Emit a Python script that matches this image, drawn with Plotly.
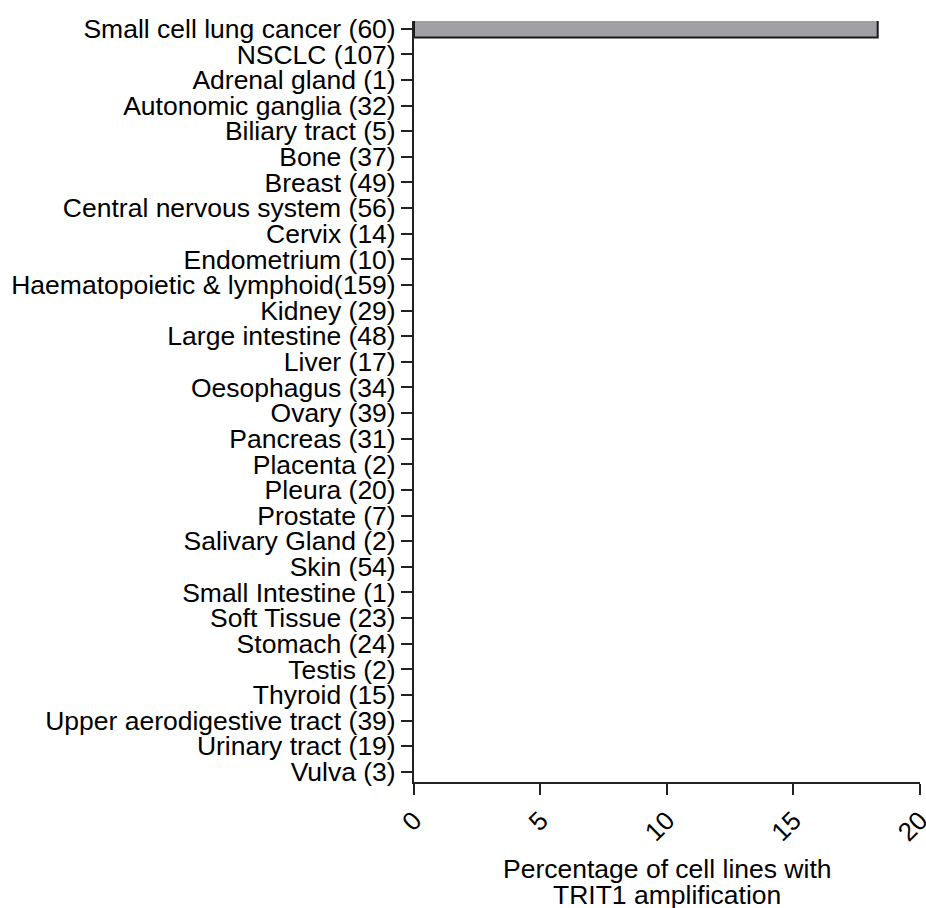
import plotly.graph_objects as go

categories = [
    "Small cell lung cancer (60)", "NSCLC (107)", "Adrenal gland (1)",
    "Autonomic ganglia (32)", "Biliary tract (5)", "Bone (37)", "Breast (49)",
    "Central nervous system (56)", "Cervix (14)", "Endometrium (10)",
    "Haematopoietic & lymphoid(159)", "Kidney (29)", "Large intestine (48)",
    "Liver (17)", "Oesophagus (34)", "Ovary (39)", "Pancreas (31)",
    "Placenta (2)", "Pleura (20)", "Prostate (7)", "Salivary Gland (2)",
    "Skin (54)", "Small Intestine (1)", "Soft Tissue (23)", "Stomach (24)",
    "Testis (2)", "Thyroid (15)", "Upper aerodigestive tract (39)",
    "Urinary tract (19)", "Vulva (3)",
]
values = [18.33] + [0] * 29
x_ticks = [0, 5, 10, 15, 20]
title_lines = ["Percentage of cell lines with", "TRIT1 amplification"]

FONT = "Liberation Sans, Arial, sans-serif"

fig = go.Figure(go.Bar(
    x=values, y=categories, orientation="h",
    width=0.68,
    marker=dict(color="#a1a1a5",
                line=dict(color="#1a1a1a",
                          width=[2 if v > 0 else 0 for v in values])),
))

fig.update_layout(
    width=926, height=908,
    margin=dict(l=414, r=6, t=21, b=126, autoexpand=False),
    paper_bgcolor="white", plot_bgcolor="white",
    showlegend=False,
    font=dict(family=FONT, size=26, color="black"),
)
fig.update_xaxes(
    range=[0, 20.002], tickmode="array", tickvals=x_ticks,
    ticktext=[str(t) for t in x_ticks], automargin=False,
    tickangle=-45, ticks="outside", ticklen=11, tickwidth=2, tickcolor="#222",
    ticklabeloverflow="allow",
    showline=True, linecolor="#222", linewidth=2, showgrid=False, zeroline=False,
    tickfont=dict(family=FONT, size=26, color="black"),
)
fig.update_yaxes(
    type="category", categoryorder="array", categoryarray=categories,
    tickmode="array", tickvals=categories, ticktext=categories,
    range=[29.4, -0.3], automargin=False,
    ticks="outside", ticklen=11, tickwidth=2, tickcolor="#222",
    showline=True, linecolor="#222", linewidth=2, showgrid=False,
    tickfont=dict(family=FONT, size=26.5, color="black"),
)
for i, line in enumerate(title_lines):
    fig.add_annotation(
        text=line, xref="paper", yref="paper", x=0.5, y=0,
        yshift=-87 - 26 * i, yanchor="middle", xanchor="center",
        showarrow=False, font=dict(family=FONT, size=26.5, color="black"),
    )

fig.write_html("out.html")
